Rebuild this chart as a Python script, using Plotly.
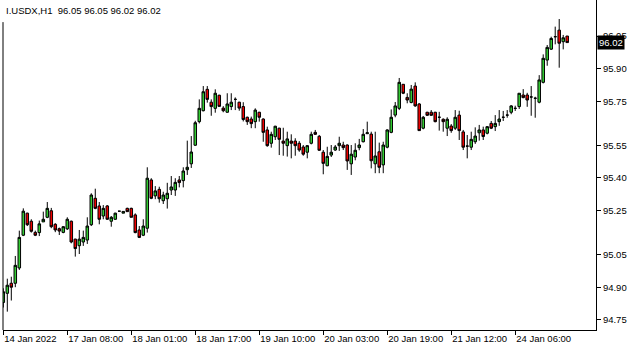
import plotly.graph_objects as go

symbol_title = "I.USDX,H1\u00a0 96.05 96.05 96.02 96.02"

tick_labels = ["14 Jan 2022", "17 Jan 08:00", "18 Jan 01:00", "18 Jan 17:00",
               "19 Jan 10:00", "20 Jan 03:00", "20 Jan 19:00", "21 Jan 12:00",
               "24 Jan 06:00"]
tick_bars = [0, 16, 32, 48, 64, 80, 96, 112, 128]

price_ticks = [94.75, 94.90, 95.05, 95.25, 95.40, 95.55, 95.75, 95.90, 96.05]

opens = [
    94.830, 94.872, 94.918, 94.918, 94.988, 95.138, 95.239, 95.202, 95.151, 95.150,
    95.199, 95.220, 95.250, 95.188, 95.168, 95.151, 95.167, 95.202, 95.120, 95.090,
    95.107, 95.116, 95.186, 95.307, 95.272, 95.226, 95.272, 95.202, 95.211, 95.248,
    95.239, 95.261, 95.261, 95.231, 95.162, 95.138, 95.170, 95.391, 95.318, 95.348,
    95.296, 95.305, 95.345, 95.345, 95.391, 95.388, 95.438, 95.465, 95.550, 95.658,
    95.708, 95.806, 95.747, 95.719, 95.779, 95.720, 95.701, 95.727, 95.760, 95.747,
    95.727, 95.678, 95.670, 95.658, 95.701, 95.670, 95.620, 95.559, 95.589, 95.628,
    95.569, 95.548, 95.569, 95.569, 95.559, 95.542, 95.518, 95.559, 95.609, 95.591,
    95.518, 95.456, 95.505, 95.528, 95.548, 95.551, 95.551, 95.465, 95.496, 95.539,
    95.566, 95.603, 95.601, 95.465, 95.520, 95.460, 95.541, 95.609, 95.688, 95.719,
    95.829, 95.769, 95.746, 95.821, 95.739, 95.628, 95.701, 95.701, 95.701, 95.678,
    95.669, 95.628, 95.638, 95.628, 95.688, 95.611, 95.546, 95.541, 95.566, 95.607,
    95.620, 95.605, 95.650, 95.635, 95.658, 95.678, 95.688, 95.701, 95.719, 95.727,
    95.780, 95.780, 95.771, 95.765, 95.747, 95.838, 95.940, 95.990, 96.047, 96.077,
    96.024, 96.050]

highs = [
    94.895, 94.939, 94.948, 95.043, 95.159, 95.261, 95.241, 95.211, 95.159, 95.205,
    95.246, 95.290, 95.263, 95.193, 95.173, 95.180, 95.220, 95.205, 95.122, 95.162,
    95.159, 95.220, 95.330, 95.351, 95.290, 95.276, 95.276, 95.226, 95.241, 95.248,
    95.248, 95.264, 95.264, 95.238, 95.180, 95.211, 95.449, 95.399, 95.363, 95.360,
    95.337, 95.378, 95.409, 95.399, 95.409, 95.449, 95.571, 95.592, 95.662, 95.760,
    95.821, 95.821, 95.760, 95.806, 95.781, 95.729, 95.788, 95.788, 95.769, 95.749,
    95.747, 95.681, 95.681, 95.719, 95.703, 95.673, 95.635, 95.612, 95.639, 95.630,
    95.630, 95.612, 95.600, 95.582, 95.569, 95.551, 95.551, 95.612, 95.620, 95.597,
    95.528, 95.543, 95.551, 95.551, 95.589, 95.566, 95.554, 95.551, 95.559, 95.579,
    95.624, 95.658, 95.612, 95.612, 95.562, 95.566, 95.623, 95.714, 95.748, 95.858,
    95.830, 95.788, 95.826, 95.838, 95.743, 95.684, 95.703, 95.711, 95.703, 95.703,
    95.673, 95.678, 95.647, 95.711, 95.708, 95.620, 95.597, 95.612, 95.632, 95.643,
    95.635, 95.638, 95.661, 95.688, 95.711, 95.707, 95.711, 95.734, 95.731, 95.788,
    95.807, 95.790, 95.821, 95.772, 95.871, 95.966, 96.009, 96.047, 96.093, 96.128,
    96.055, 96.050]

lows = [
    94.807, 94.788, 94.839, 94.900, 94.979, 95.134, 95.180, 95.150, 95.134, 95.134,
    95.199, 95.216, 95.170, 95.152, 95.139, 95.147, 95.162, 95.101, 95.040, 95.052,
    95.089, 95.098, 95.180, 95.257, 95.188, 95.211, 95.208, 95.177, 95.208, 95.248,
    95.239, 95.246, 95.220, 95.147, 95.125, 95.134, 95.150, 95.303, 95.303, 95.287,
    95.281, 95.260, 95.322, 95.318, 95.357, 95.357, 95.414, 95.446, 95.547, 95.650,
    95.705, 95.745, 95.685, 95.699, 95.726, 95.701, 95.699, 95.711, 95.711, 95.708,
    95.659, 95.643, 95.628, 95.628, 95.658, 95.566, 95.543, 95.539, 95.574, 95.505,
    95.502, 95.498, 95.490, 95.502, 95.520, 95.502, 95.490, 95.554, 95.597, 95.524,
    95.417, 95.454, 95.496, 95.524, 95.524, 95.528, 95.437, 95.414, 95.481, 95.527,
    95.563, 95.601, 95.444, 95.422, 95.422, 95.422, 95.536, 95.605, 95.678, 95.711,
    95.784, 95.742, 95.742, 95.726, 95.617, 95.623, 95.684, 95.684, 95.655, 95.617,
    95.612, 95.592, 95.607, 95.620, 95.574, 95.528, 95.490, 95.528, 95.556, 95.571,
    95.574, 95.600, 95.624, 95.615, 95.639, 95.661, 95.676, 95.692, 95.707, 95.716,
    95.765, 95.726, 95.685, 95.676, 95.742, 95.833, 95.914, 95.986, 96.012, 95.905,
    95.989, 96.020]

closes = [
    94.879, 94.909, 94.900, 95.000, 95.128, 95.248, 95.186, 95.156, 95.138, 95.190,
    95.211, 95.261, 95.177, 95.162, 95.157, 95.177, 95.211, 95.107, 95.077, 95.120,
    95.128, 95.180, 95.322, 95.261, 95.211, 95.261, 95.211, 95.220, 95.239, 95.248,
    95.247, 95.246, 95.220, 95.150, 95.128, 95.180, 95.399, 95.307, 95.341, 95.305,
    95.322, 95.330, 95.359, 95.380, 95.379, 95.432, 95.449, 95.519, 95.653, 95.719,
    95.795, 95.760, 95.727, 95.788, 95.728, 95.708, 95.739, 95.747, 95.760, 95.720,
    95.668, 95.658, 95.649, 95.711, 95.678, 95.609, 95.548, 95.600, 95.637, 95.577,
    95.559, 95.579, 95.559, 95.548, 95.528, 95.509, 95.548, 95.600, 95.600, 95.527,
    95.467, 95.499, 95.518, 95.542, 95.559, 95.539, 95.478, 95.509, 95.527, 95.551,
    95.600, 95.607, 95.479, 95.501, 95.449, 95.551, 95.620, 95.678, 95.730, 95.838,
    95.788, 95.757, 95.807, 95.730, 95.617, 95.678, 95.687, 95.687, 95.658, 95.678,
    95.658, 95.669, 95.617, 95.678, 95.617, 95.541, 95.546, 95.577, 95.592, 95.620,
    95.590, 95.635, 95.628, 95.650, 95.670, 95.678, 95.688, 95.730, 95.719, 95.788,
    95.768, 95.757, 95.771, 95.765, 95.849, 95.948, 95.998, 96.039, 96.047, 96.017,
    96.042, 96.020]

last_price = closes[-1]
bars = list(range(len(opens)))

FONT = "Liberation Sans, Arial, sans-serif"

fig = go.Figure()
fig.add_trace(go.Candlestick(
    x=bars, open=opens, high=highs, low=lows, close=closes,
    increasing=dict(line=dict(color="black", width=1), fillcolor="#33CC33"),
    decreasing=dict(line=dict(color="black", width=1), fillcolor="#EE0000"),
    whiskerwidth=0,
    hoverinfo="skip",
    showlegend=False,
))

fig.update_layout(
    width=635, height=352,
    margin=dict(l=3, r=39, t=0, b=22),
    paper_bgcolor="white", plot_bgcolor="white",
    font=dict(family=FONT, size=9.5, color="black"),
    showlegend=False,
    boxgap=0.1,
    xaxis=dict(
        range=[-0.075, 148.2],
        tickmode="array", tickvals=tick_bars, ticktext=tick_labels,
        ticks="outside", ticklen=4, tickcolor="black", tickwidth=1,
        ticklabelposition="outside right",
        showgrid=False, zeroline=False,
        showline=True, linecolor="black", linewidth=1,
        rangeslider=dict(visible=False),
        tickfont=dict(family=FONT, size=9.5, color="black"),
    ),
    yaxis=dict(
        side="right",
        range=[94.704, 96.215],
        tickmode="array", tickvals=price_ticks,
        ticktext=[f"{v:.2f}" for v in price_ticks],
        ticks="outside", ticklen=4, tickcolor="black", tickwidth=1,
        showgrid=False, zeroline=False,
        showline=True, linecolor="black", linewidth=1,
        tickfont=dict(family=FONT, size=9.5, color="black"),
    ),
    shapes=[dict(type="line", xref="paper", yref="paper",
                 x0=0, x1=0, y0=0, y1=0.933,
                 line=dict(color="black", width=1))],
    annotations=[
        dict(text=symbol_title, xref="paper", yref="paper", x=0, y=1,
             xanchor="left", yanchor="top", xshift=1, yshift=-3,
             showarrow=False, font=dict(family=FONT, size=9.5, color="black")),
        dict(text=f"{last_price:.2f}", xref="paper", yref="y", x=1, y=last_price,
             xanchor="left", yanchor="middle", xshift=1,
             showarrow=False, bgcolor="black", borderpad=1,
             font=dict(family=FONT, size=9.5, color="white")),
    ],
)

fig.write_html("out.html")
